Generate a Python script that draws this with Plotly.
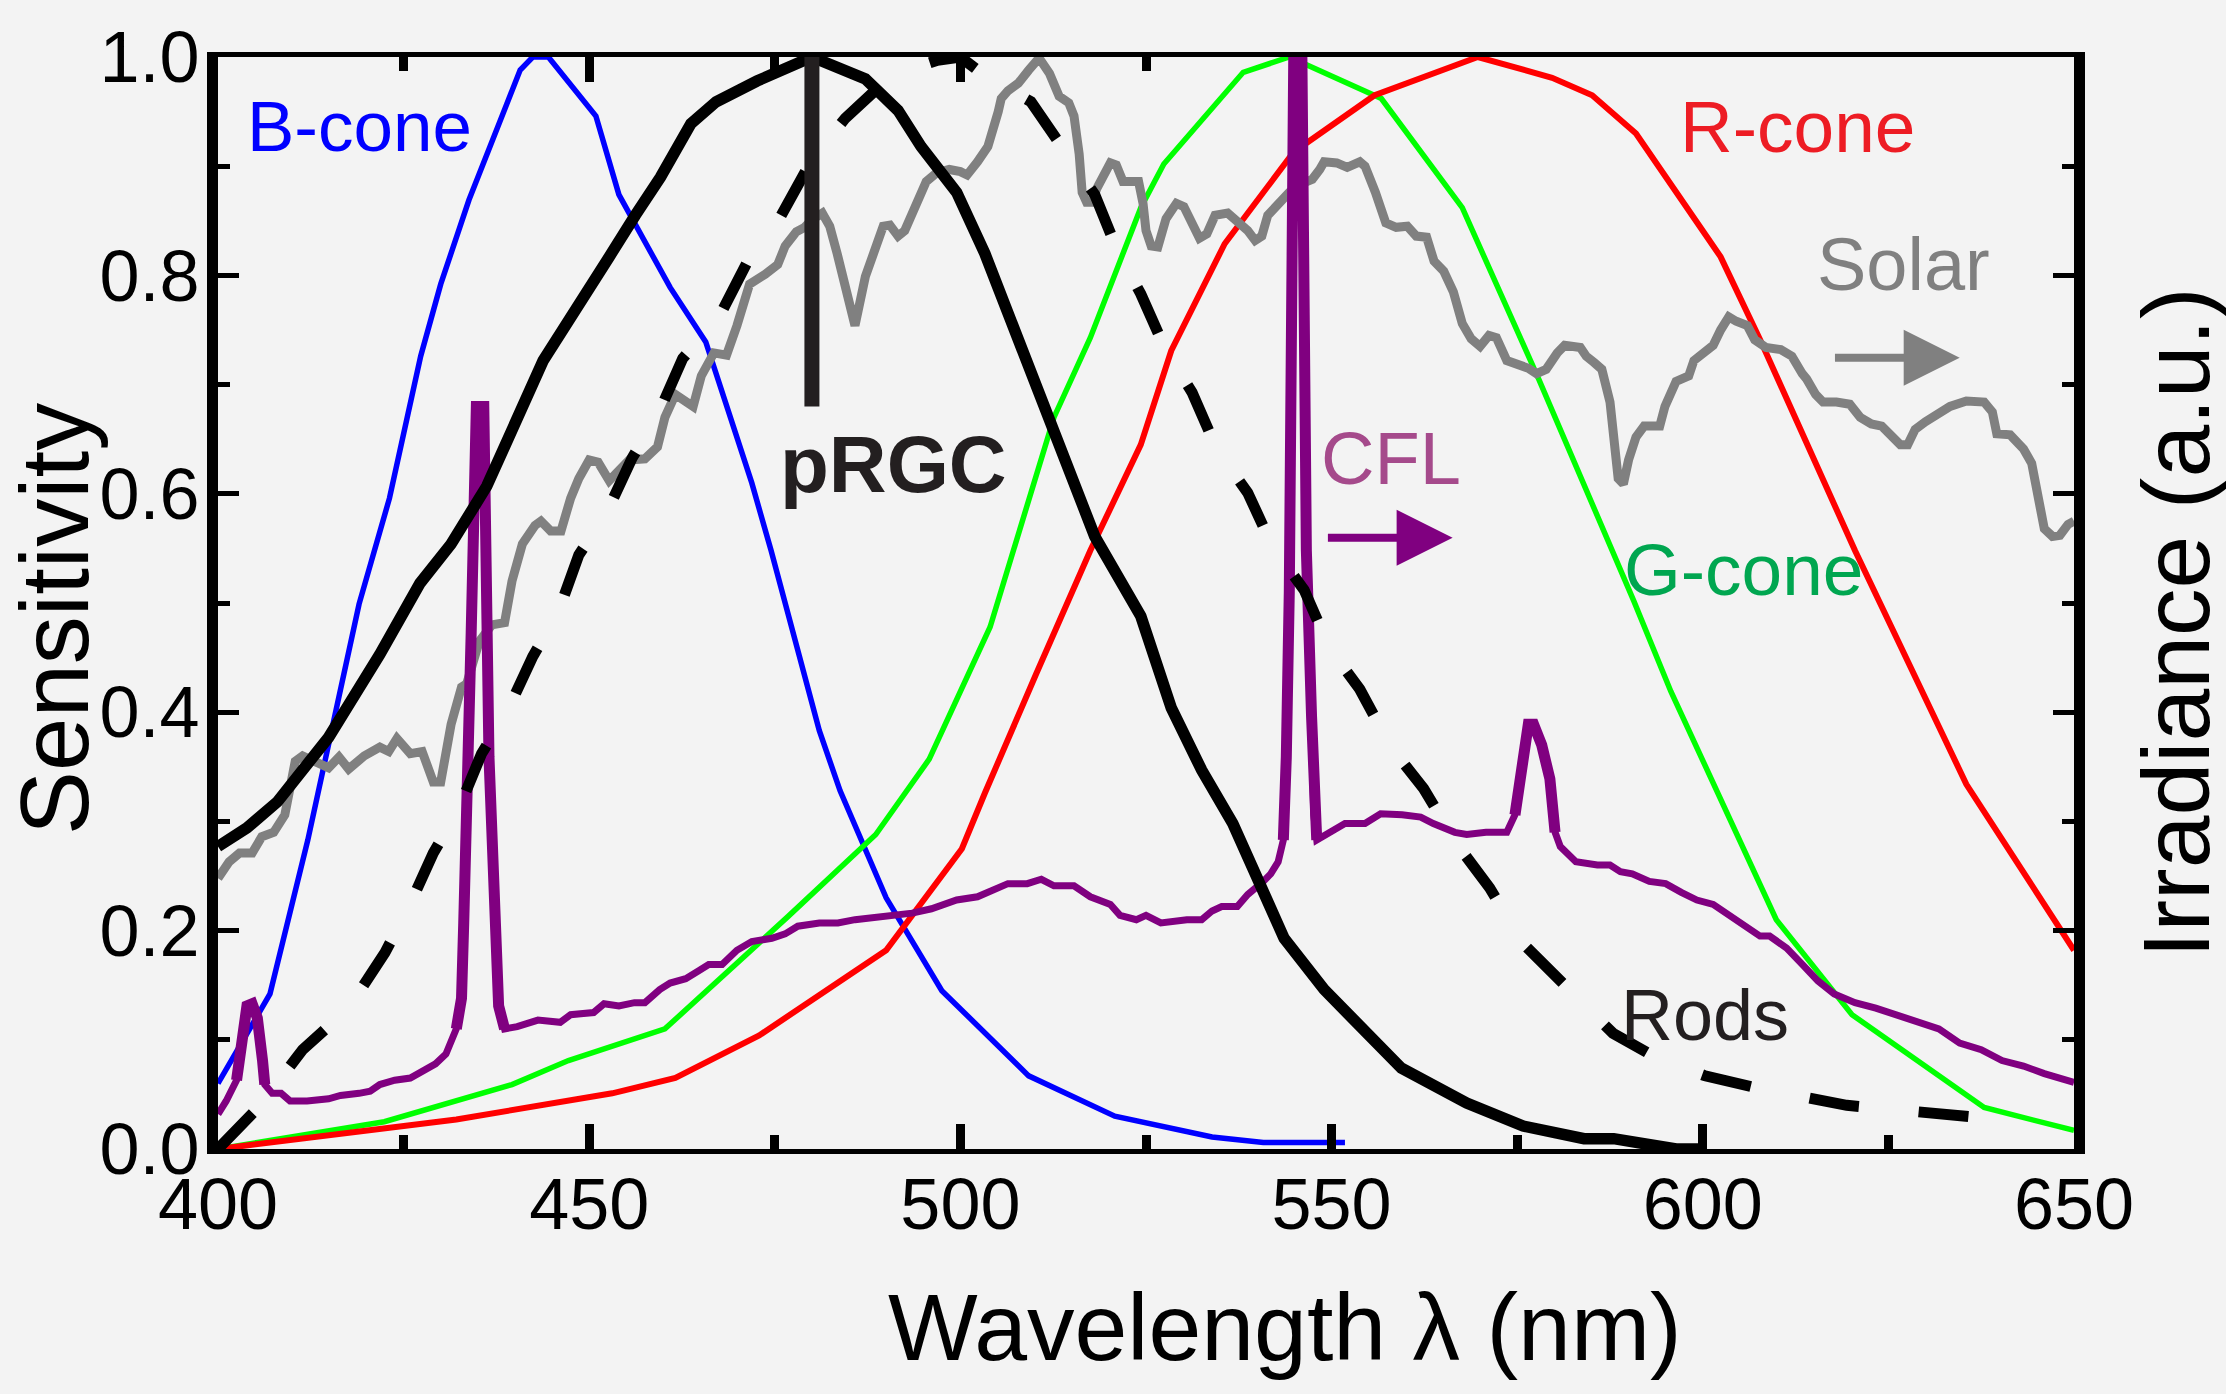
import numpy as np
import plotly.graph_objects as go

# ---------------- data ----------------
bcone_nm = [400, 407, 412.1, 419, 423.1, 427.3, 430, 433.8, 438.9, 440.7, 442.4, 444.5, 450.9, 454, 460.9,
            465.7, 471.9, 474.5, 481, 483.8, 490, 497.5, 509.2, 520.8, 533.9, 540.8, 551.8]
bcone_s = [0.06, 0.142, 0.283, 0.499, 0.596, 0.726, 0.792, 0.869, 0.957, 0.988, 1.0, 1.0, 0.946, 0.874, 0.789,
           0.739, 0.61, 0.548, 0.383, 0.328, 0.23, 0.145, 0.067, 0.03, 0.011, 0.006, 0.006]

gcone_nm = [400, 422.4, 439.6, 447.2, 460.2, 476.8, 488.6, 495.8, 504, 512.6, 517.5, 524.3, 527.4, 538.1,
            544.3, 556.7, 567.6, 577.9, 590.7, 595.7, 609.9, 620.1, 637.9, 650]
gcone_s = [0, 0.025, 0.059, 0.081, 0.110, 0.213, 0.288, 0.357, 0.478, 0.670, 0.743, 0.862, 0.902, 0.986,
           1.0, 0.962, 0.862, 0.705, 0.502, 0.419, 0.210, 0.123, 0.038, 0.017]

rcone_nm = [400, 432.1, 453.1, 461.6, 472.9, 490, 500.2, 503.3, 510.2, 517.5, 524.3, 528.4, 535.6, 544.9,
            555.8, 569.7, 579.7, 585.1, 591, 602.4, 607.8, 620.5, 635.5, 650]
rcone_s = [0, 0.027, 0.051, 0.065, 0.104, 0.182, 0.275, 0.326, 0.435, 0.548, 0.645, 0.731, 0.829, 0.913,
           0.965, 1.0, 0.981, 0.965, 0.930, 0.817, 0.740, 0.548, 0.334, 0.182]

prgc_nm = [400, 403.9, 408, 414.9, 421.8, 427.2, 431.4, 436.2, 443.8, 447.2, 452.7, 456.2, 459.6, 463.7,
           467.1, 472.6, 480, 487.2, 491.6, 494.7, 499.5, 503.3, 507.8, 513.3, 518.1, 524.3, 528.4, 532.5,
           536.7, 543.6, 549, 559.4, 568.2, 575.8, 584, 588, 596.4, 600]
prgc_s = [0.277, 0.294, 0.318, 0.377, 0.453, 0.518, 0.554, 0.607, 0.722, 0.760, 0.817, 0.855, 0.890, 0.939,
          0.959, 0.978, 1.0, 0.980, 0.951, 0.918, 0.876, 0.820, 0.743, 0.649, 0.561, 0.488, 0.404, 0.347,
          0.298, 0.193, 0.146, 0.074, 0.042, 0.021, 0.0095, 0.0095, 0.0, 0.0]

rods_nm = [400, 405.7, 411.4, 417.6, 422.5, 425.6, 429, 432.4, 435.5, 438.9, 442.4, 445.8, 448.6, 452.3,
           455.8, 459.3, 462.6, 467.5, 471.5, 475.7, 480, 484.5, 490.7, 496.9, 500, 503.3, 509.5, 514.6,
           518.1, 521.2, 524.3, 527.7, 531.2, 534.6, 538.7, 542.1, 546.3, 549.7, 553.8, 558, 562.4, 566.9,
           571.3, 575.8, 581.2, 587.9, 593.9, 600.3, 606.6, 613.1, 619.4, 625.9, 632.2, 639.4, 643.3]
rods_s = [0, 0.040, 0.091, 0.129, 0.180, 0.220, 0.271, 0.311, 0.362, 0.400, 0.451, 0.491, 0.544, 0.582,
          0.633, 0.673, 0.724, 0.762, 0.815, 0.853, 0.906, 0.944, 0.983, 0.997, 1.0, 0.983, 0.959, 0.911,
          0.874, 0.822, 0.783, 0.731, 0.693, 0.640, 0.601, 0.551, 0.512, 0.459, 0.421, 0.368, 0.330, 0.279,
          0.239, 0.188, 0.150, 0.106, 0.083, 0.067, 0.057, 0.048, 0.040, 0.036, 0.032, 0.0265, 0.025]

solar_nm = [400, 401.5, 402.9, 404.6, 405.9, 407.5, 409.0, 410.4, 411.4, 413.5, 414.9, 416.3, 417.6, 419.7,
            421.8, 423.0, 424.1, 425.9, 427.5, 429.0, 430.0, 431.4, 432.8, 433.5, 435.2, 436.9, 438.6,
            439.6, 441.0, 442.7, 443.5, 444.8, 446.2, 447.5, 448.6, 450.0, 451.2, 452.7, 454.0, 455.4,
            457.5, 459.2, 460.2, 461.6, 464.0, 465.1, 466.8, 468.5, 469.9, 471.6, 473.7, 475.4, 476.4,
            477.9, 479.0, 480.0, 481.4, 482.4, 483.4, 484.7, 485.8, 487.2, 488.6, 489.6, 490.5, 491.6,
            492.5, 494.0, 495.4, 496.8, 498.5, 500.0, 500.9, 502.3, 503.7, 505.1, 505.5, 506.4, 507.8,
            509.2, 510.6, 512.0, 513.3, 514.6, 515.3, 516.0, 516.4, 517.0, 517.7, 518.4, 520.2, 521.0,
            521.9, 523.0, 524.0, 524.6, 525.0, 525.7, 526.6, 527.7, 529.1, 530.1, 531.2, 532.2, 533.2,
            534.3, 536.0, 537.3, 538.7, 539.7, 540.6, 541.4, 542.8, 544.3, 545.6, 547.4, 548.4, 549.0,
            550.7, 552.1, 553.8, 554.5, 555.9, 557.3, 558.7, 560.2, 561.4, 562.8, 563.8, 565.1, 566.4,
            567.6, 568.8, 570.0, 571.2, 572.2, 573.6, 574.8, 576.5, 577.6, 578.9, 580.4, 581.4, 583.5,
            584.3, 585.4, 586.4, 587.5, 588.2, 588.6, 589.3, 590.0, 591.0, 592.1, 594.2, 594.9, 596.4,
            598.1, 598.8, 599.9, 601.4, 602.4, 603.5, 604.5, 606.0, 607.0, 608.5, 610.5, 612.0, 613.4,
            614.0, 615.2, 616.2, 618.0, 619.8, 621.2, 622.7, 624.1, 625.1, 626.6, 627.6, 628.6, 630.0,
            631.8, 633.3, 635.5, 637.9, 639.0, 639.6, 641.4, 643.2, 644.3, 645.3, 646.0, 647.1, 648.1,
            649.2, 650.0]
solar_irr = [0.248, 0.263, 0.271, 0.271, 0.286, 0.290, 0.306, 0.355, 0.360, 0.352, 0.349, 0.359, 0.348, 0.360,
             0.368, 0.364, 0.376, 0.362, 0.364, 0.336, 0.336, 0.389, 0.423, 0.426, 0.465, 0.480, 0.482,
             0.520, 0.554, 0.571, 0.575, 0.566, 0.566, 0.596, 0.614, 0.631, 0.629, 0.612, 0.620, 0.631,
             0.632, 0.643, 0.670, 0.691, 0.680, 0.708, 0.729, 0.727, 0.754, 0.792, 0.801, 0.810, 0.827,
             0.840, 0.844, 0.851, 0.857, 0.845, 0.820, 0.785, 0.754, 0.799, 0.827, 0.845, 0.846, 0.836,
             0.841, 0.862, 0.886, 0.894, 0.897, 0.895, 0.892, 0.904, 0.918, 0.950, 0.962, 0.969, 0.976,
             0.988, 0.999, 0.985, 0.964, 0.958, 0.946, 0.911, 0.876, 0.867, 0.867, 0.880, 0.903, 0.901,
             0.886, 0.886, 0.886, 0.866, 0.841, 0.827, 0.826, 0.852, 0.866, 0.863, 0.845, 0.834, 0.838,
             0.855, 0.857, 0.850, 0.841, 0.832, 0.836, 0.855, 0.866, 0.876, 0.883, 0.888, 0.897, 0.904,
             0.903, 0.899, 0.904, 0.900, 0.876, 0.848, 0.844, 0.845, 0.836, 0.835, 0.813, 0.804, 0.785,
             0.756, 0.742, 0.735, 0.745, 0.743, 0.722, 0.719, 0.715, 0.710, 0.714, 0.729, 0.736, 0.734,
             0.726, 0.720, 0.714, 0.684, 0.641, 0.614, 0.609, 0.631, 0.652, 0.662, 0.662, 0.680, 0.703,
             0.708, 0.722, 0.727, 0.736, 0.750, 0.762, 0.758, 0.754, 0.741, 0.734, 0.732, 0.726, 0.710,
             0.705, 0.691, 0.684, 0.684, 0.682, 0.670, 0.664, 0.662, 0.655, 0.645, 0.645, 0.659, 0.666,
             0.673, 0.680, 0.685, 0.684, 0.675, 0.655, 0.654, 0.641, 0.628, 0.596, 0.568, 0.561, 0.562,
             0.572, 0.575]

cfl_nm = [400, 401.1, 402.5, 403.2, 403.9, 404.6, 405.3, 406.0, 406.3, 407.3, 408.5, 409.7, 412.0, 414.9,
          416.5, 419.0, 420.5, 421.8, 423.8, 425.9, 428.0, 429.3, 430.7, 432.1, 432.8, 433.1, 433.6, 434.1,
          434.8, 435.8, 436.5, 437.2, 437.8, 438.6, 440.3, 443.1, 446.1, 447.5, 450.6, 452.0, 454.0, 456.1,
          457.5, 459.5, 460.9, 463.0, 464.7, 466.1, 467.9, 469.9, 471.9, 474.6, 476.4, 478.1, 481.0, 483.5,
          485.8, 488.6, 491.3, 493.5, 496.1, 498.2, 499.5, 502.3, 504.4, 506.4, 509.0, 510.9, 512.6, 515.3,
          517.5, 520.2, 521.5, 523.7, 525.0, 527.0, 530.5, 532.5, 533.9, 535.2, 537.3, 538.7, 540.8, 541.8,
          542.8, 543.5, 543.9, 544.3, 544.9, 546.0, 546.6, 547.3, 547.6, 548.0, 549.7, 551.8, 554.5, 556.6,
          559.5, 562.0, 563.7, 566.6, 568.2, 570.8, 573.6, 574.7, 575.8, 576.5, 577.2, 578.3, 579.4, 580.1,
          580.8, 582.9, 585.8, 587.5, 588.9, 590.5, 592.8, 595.0, 597.1, 599.2, 601.4, 603.5, 605.6, 607.7,
          609.0, 611.3, 613.4, 615.5, 617.7, 620.5, 623.3, 626.2, 629.0, 631.8, 634.6, 637.5, 640.3, 643.2,
          646.0, 648.1, 650.0]
cfl_irr = [0.032, 0.044, 0.063, 0.093, 0.131, 0.133, 0.120, 0.081, 0.059, 0.051, 0.051, 0.044, 0.044, 0.046,
           0.049, 0.051, 0.053, 0.059, 0.063, 0.065, 0.072, 0.078, 0.087, 0.110, 0.138, 0.207, 0.320, 0.472,
           0.680, 0.680, 0.359, 0.207, 0.131, 0.110, 0.112, 0.118, 0.116, 0.123, 0.125, 0.133, 0.131, 0.134,
           0.134, 0.146, 0.152, 0.156, 0.163, 0.169, 0.169, 0.182, 0.190, 0.193, 0.197, 0.204, 0.207, 0.207,
           0.210, 0.212, 0.214, 0.216, 0.220, 0.224, 0.228, 0.231, 0.237, 0.243, 0.243, 0.247, 0.241, 0.241,
           0.231, 0.224, 0.214, 0.210, 0.214, 0.207, 0.210, 0.210, 0.218, 0.222, 0.222, 0.233, 0.245, 0.252,
           0.263, 0.283, 0.359, 0.510, 1.0, 1.0, 0.548, 0.396, 0.306, 0.283, 0.290, 0.298, 0.298, 0.307,
           0.306, 0.304, 0.298, 0.290, 0.288, 0.290, 0.290, 0.306, 0.359, 0.389, 0.389, 0.370, 0.339, 0.290,
           0.277, 0.263, 0.260, 0.260, 0.254, 0.252, 0.245, 0.243, 0.235, 0.228, 0.224, 0.214, 0.205, 0.195,
           0.195, 0.184, 0.169, 0.154, 0.142, 0.134, 0.129, 0.122, 0.116, 0.110, 0.097, 0.091, 0.081, 0.076,
           0.069, 0.065, 0.061]
cfl_spike_bands = [(402.4, 406.4), (432.0, 438.7), (543.4, 548.1), (574.5, 580.2)]

prgc_peak_nm = 480
prgc_marker_s = [0.68, 1.0]

x_ticks = [400, 450, 500, 550, 600, 650]
x_minor = [425, 475, 525, 575, 625]
top_ticks = [450, 500]
top_minor = [425, 475, 525]
y_ticks = [0.0, 0.2, 0.4, 0.6, 0.8, 1.0]
y_minor = [0.1, 0.3, 0.5, 0.7, 0.9]

# ---------------- figure ----------------
BG = "#F3F3F3"
FONT = "Liberation Sans, Arial, sans-serif"

fig = go.Figure()


def line(x, y, color, width, dash=None, xaxis="x"):
    fig.add_trace(go.Scatter(x=x, y=y, mode="lines", xaxis=xaxis,
                             line=dict(color=color, width=width, dash=dash),
                             hoverinfo="skip", showlegend=False))


line(bcone_nm, bcone_s, "#0000FF", 5.5)
line(gcone_nm, gcone_s, "#00FF00", 5.5)
line(rcone_nm, rcone_s, "#FF0000", 6)
line(solar_nm, solar_irr, "#808080", 9)
line(cfl_nm, cfl_irr, "#800080", 7)
cnm = np.array(cfl_nm)
cir = np.array(cfl_irr)
for lo, hi in cfl_spike_bands:
    m = (cnm >= lo) & (cnm <= hi)
    line(cnm[m], cir[m], "#800080", 11)
line(prgc_nm, prgc_s, "#000000", 11.5)
line(rods_nm, rods_s, "#000000", 11, dash="50px,60px")
line([prgc_peak_nm, prgc_peak_nm], prgc_marker_s, "#231F20", 15, xaxis="x2")

ann = []


def label(text, x, y, color, size, xanchor="center", bold=False):
    t = f"<b>{text}</b>" if bold else text
    ann.append(dict(text=t, x=x, y=y, xref="x", yref="y", xanchor=xanchor, yanchor="middle",
                    showarrow=False, font=dict(family=FONT, size=size, color=color)))


label("B-cone", 403.7, 0.936, "#0000FF", 71, xanchor="left")
label("pRGC", 491.0, 0.627, "#231F20", 80, bold=True)
label("CFL", 558.0, 0.632, "#A54A8B", 74)
label("G-cone", 605.5, 0.531, "#00A650", 73)
label("R-cone", 612.7, 0.936, "#ED1C24", 73)
label("Solar", 627.0, 0.810, "#808080", 74)
label("Rods", 600.3, 0.1227, "#231F20", 72)

# arrows
for (x0, x1, yy, col) in [(549.3, 566.3, 0.5598, "#800080"), (617.6, 634.6, 0.7245, "#808080")]:
    ann.append(dict(x=x1, y=yy, ax=x0, ay=yy, xref="x", yref="y", axref="x", ayref="y",
                    text="", showarrow=True, arrowhead=2, arrowsize=1.4, arrowwidth=8,
                    arrowcolor=col, standoff=0))

# axis titles
ann.append(dict(text="Sensitivity", x=(54 - 218) / 1856, y=(1149 - 619) / 1092, xref="paper", yref="paper",
                textangle=-90, showarrow=False, xanchor="center", yanchor="middle",
                font=dict(family=FONT, size=96, color="#000000")))
ann.append(dict(text="Irradiance (a.u.)", x=(2176 - 218) / 1856, y=(1149 - 623) / 1092, xref="paper",
                yref="paper", textangle=-90, showarrow=False, xanchor="center", yanchor="middle",
                font=dict(family=FONT, size=95, color="#000000")))
ann.append(dict(text="Wavelength λ (nm)", x=(1285 - 218) / 1856, y=(1149 - 1327) / 1092, xref="paper",
                yref="paper", showarrow=False, xanchor="center", yanchor="middle",
                font=dict(family=FONT, size=95, color="#000000")))

fig.update_layout(
    width=2226, height=1394,
    margin=dict(l=218, r=152, t=57, b=245, pad=0),
    paper_bgcolor=BG, plot_bgcolor=BG,
    showlegend=False,
    annotations=ann,
    xaxis=dict(range=[400, 650], tickvals=x_ticks, ticks="inside", ticklen=25, tickwidth=9,
               tickcolor="#000000", showline=True, linewidth=4.5, linecolor="#000000", mirror=True,
               showgrid=False, zeroline=False, ticklabelstandoff=-11,
               tickfont=dict(family=FONT, size=72, color="#000000"),
               minor=dict(tickvals=x_minor, ticks="inside", ticklen=14, tickwidth=9, tickcolor="#000000",
                          showgrid=False)),
    xaxis2=dict(range=[400, 650], overlaying="x", side="top", anchor="y", tickvals=top_ticks,
                ticks="inside", ticklen=25, tickwidth=9, tickcolor="#000000", showticklabels=False,
                showline=False, showgrid=False, zeroline=False,
                minor=dict(tickvals=top_minor, ticks="inside", ticklen=14, tickwidth=9,
                           tickcolor="#000000", showgrid=False)),
    yaxis=dict(range=[0, 1], tickvals=y_ticks, ticktext=[f"{v:.1f}" for v in y_ticks], ticks="inside",
               ticklen=21, tickwidth=4.5, tickcolor="#000000", showline=True, linewidth=11,
               linecolor="#000000", mirror="ticks", showgrid=False, zeroline=False,
               ticklabelstandoff=-7,
               tickfont=dict(family=FONT, size=72, color="#000000"),
               minor=dict(tickvals=y_minor, ticks="inside", ticklen=12, tickwidth=4.5, tickcolor="#000000",
                          showgrid=False)),
)

fig.write_html("out.html", config={"displayModeBar": False},
               post_script="document.body.style.margin='0px';")
